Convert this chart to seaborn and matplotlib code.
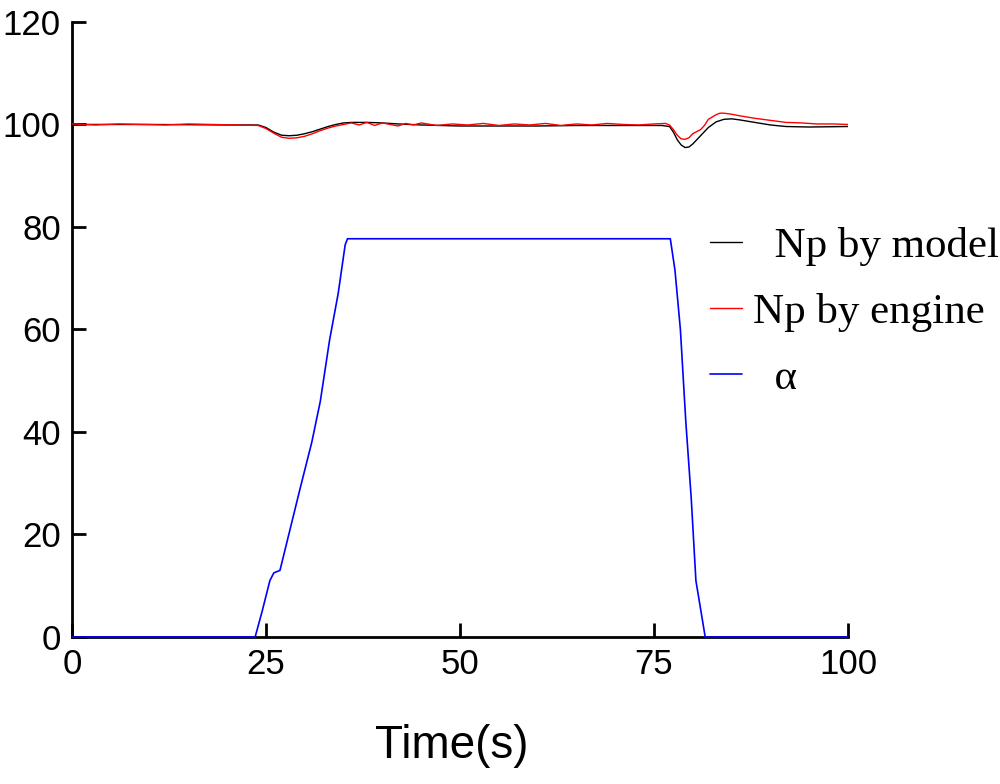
import numpy as np
import pandas as pd
import seaborn as sns
import matplotlib.pyplot as plt

# values
t_model = [0, 10, 20, 24, 25, 26, 27, 28, 29, 30, 31, 32, 33, 34, 35, 36, 38, 40,
           42, 45, 50, 55, 60, 65, 70, 76, 77, 77.5, 78, 78.5, 79, 79.5, 80, 81,
           82, 83, 84, 85, 86, 88, 90, 92, 95, 100]
np_model = [100, 100, 99.9, 99.9, 99.4, 98.5, 97.9, 97.8, 97.9, 98.2, 98.6, 99.1,
            99.6, 100.0, 100.3, 100.4, 100.4, 100.3, 100.1, 99.9, 99.7, 99.7, 99.7,
            99.8, 99.8, 99.8, 99.6, 98.5, 97.0, 96.0, 95.5, 95.6, 96.2, 97.8, 99.4,
            100.5, 101.0, 101.1, 100.9, 100.4, 99.9, 99.6, 99.5, 99.6]

t_engine = [0, 3, 6, 9, 12, 15, 18, 21, 24, 25, 26, 27, 28, 29, 30, 31, 32, 33, 34,
            35, 36, 37, 38, 39, 40, 41, 42, 43, 44, 45, 47, 49, 51, 53, 55, 57, 59,
            61, 63, 65, 67, 69, 71, 73, 75, 76.5, 77, 77.5, 78, 78.5, 79, 79.5, 80,
            80.5, 81, 81.5, 82, 83, 83.5, 84, 85, 86, 88, 90, 92, 94, 96, 98, 100]
np_engine = [100.1, 99.9, 100.1, 100.0, 99.9, 100.1, 100.0, 99.9, 99.8, 99.2, 98.3,
             97.5, 97.3, 97.4, 97.7, 98.2, 98.8, 99.3, 99.7, 100.0, 100.3, 99.9,
             100.4, 99.8, 100.3, 100.0, 99.7, 100.2, 99.9, 100.3, 99.8, 100.1, 99.9,
             100.2, 99.8, 100.1, 99.9, 100.2, 99.8, 100.1, 99.9, 100.2, 100.0, 99.9,
             100.1, 100.2, 99.9, 99.0, 97.9, 97.2, 97.1, 97.4, 98.2, 98.6, 99.0,
             99.8, 101.0, 101.9, 102.2, 102.2, 102.0, 101.7, 101.2, 100.8, 100.4,
             100.3, 100.1, 100.1, 100.0]

t_alpha = [0, 23.6, 24.5, 25.5, 26.0, 26.8, 28.1, 29.4, 30.9, 32.0, 33.2, 34.3,
           35.2, 35.5, 50, 65, 77.1, 77.7, 78.4, 79.1, 79.8, 80.4, 81.6, 100]
alpha = [0, 0, 5, 11, 12.5, 13, 21, 29, 38, 46, 58, 67, 76.5, 77.7, 77.7, 77.7,
         77.7, 71.6, 60, 42, 27, 11, 0, 0]

sns.set_style("ticks")
plt.rcParams["font.family"] = ["Liberation Sans", "DejaVu Sans"]

fig, ax = plt.subplots(figsize=(10, 7.84), dpi=100)
fig.subplots_adjust(left=0.072, right=0.848, bottom=0.1875, top=0.972)

sns.lineplot(x=t_model, y=np_model, color="black", lw=1.0, ax=ax,
             label="  Np by model", zorder=3)
sns.lineplot(x=t_engine, y=np_engine, color="red", lw=1.0, ax=ax,
             label="Np by engine", zorder=3)
sns.lineplot(x=t_alpha, y=alpha, color="blue", lw=1.2, ax=ax,
             label="  α", clip_on=False, zorder=3)

ax.set_xlim(0, 100)
ax.set_ylim(0, 120)
ax.set_xticks([0, 25, 50, 75, 100])
ax.set_yticks([0, 20, 40, 60, 80, 100, 120])
sns.despine(ax=ax)
for s in ["left", "bottom"]:
    ax.spines[s].set_linewidth(2)
    ax.spines[s].set_color("black")
ax.tick_params(direction="in", length=10, width=2, labelsize=25, pad=8,
               colors="black")
ax.set_xlabel("Time(s)", fontsize=33, color="black")
ax.xaxis.set_label_coords(0.49, -0.142)
ax.set_ylabel("")

ax.legend(loc="upper left", bbox_to_anchor=(0.71, 0.71),
          bbox_transform=fig.transFigure, frameon=False, borderpad=0,
          borderaxespad=0, handlelength=0.75, handletextpad=0.25,
          labelspacing=0.62, labelcolor="black",
          prop={"family": "Liberation Serif", "size": 31})

fig.savefig("out.png", dpi=100)
